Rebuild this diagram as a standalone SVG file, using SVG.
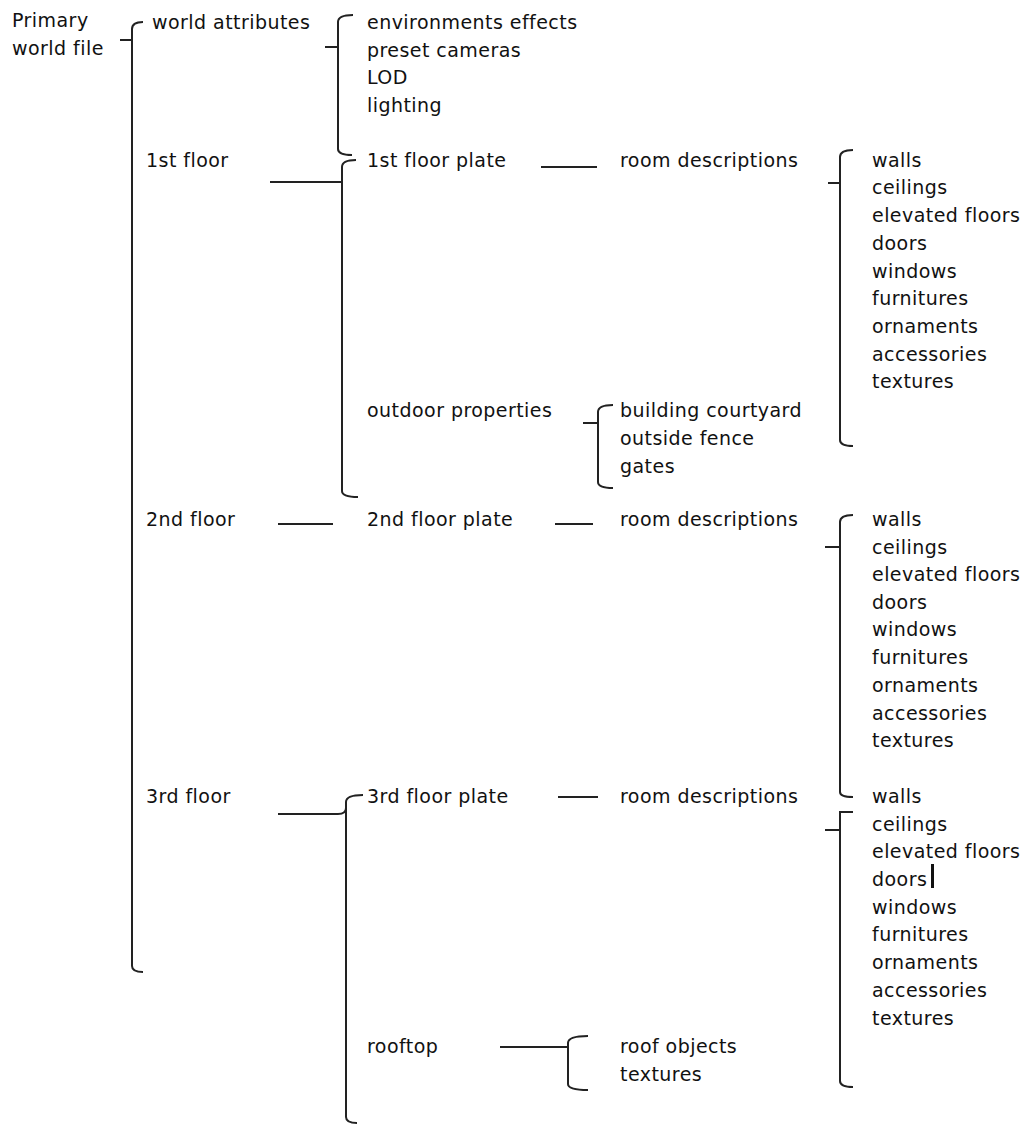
<svg xmlns="http://www.w3.org/2000/svg" width="1030" height="1126" viewBox="0 0 1030 1126">
<style>
text{font-family:"DejaVu Sans","Liberation Sans",sans-serif;font-size:19px;fill:#111;letter-spacing:0.45px}
.c path{fill:none;stroke:#222;stroke-width:2}
</style>
<rect width="1030" height="1126" fill="#fff"/>
<g class="c" id="connectors">
<path d="M143,22 Q132,22 132,29 L132,966 Q132,972 143,972 M120,40 L132,40"/>
<path d="M353,15 Q338,15 338,22 L338,149 Q338,155 352,155 M325,47 L338,47" stroke="#444"/>
<path d="M356,160 Q342,160 342,167 L342,491 Q342,497 358,497 M270,182 L342,182"/>
<path d="M541,167 L597,167"/>
<path d="M853,150 Q840,150 840,157 L840,440 Q840,446 853,446 M828,183 L840,183"/>
<path d="M613,405 Q598,405 598,412 L598,482 Q598,488 613,488 M583,423 L598,423"/>
<path d="M278,524 L333,524 M555,524 L593,524"/>
<path d="M853,515 Q840,515 840,522 L840,792 Q840,797 853,797 M825,547 L840,547"/>
<path d="M853,812 L840,812 L840,1081 Q840,1087 853,1087 M825,830 L840,830"/>
<path d="M278,814 L338,814 Q346,814 346,808"/>
<path d="M363,795 Q346,795 346,802 L346,1117 Q346,1123 357,1123"/>
<path d="M558,797 L598,797"/>
<path d="M500,1047 L568,1047 M588,1036 Q568,1036 568,1043 L568,1084 Q568,1090 588,1090"/>
</g>
<g id="primary"><text x="12" y="27">Primary</text><text x="12" y="55">world file</text></g>
<g id="world-attributes"><text x="152" y="29">world attributes</text></g>
<g id="world-attr-items"><text x="367" y="29">environments effects</text><text x="367" y="57">preset cameras</text><text x="367" y="84">LOD</text><text x="367" y="112">lighting</text></g>
<g id="floor1"><text x="146" y="167">1st floor</text></g>
<g id="floor1-plate"><text x="367" y="167">1st floor plate</text></g>
<g id="room1"><text x="620" y="167">room descriptions</text></g>
<g id="room1-items">
<text x="872" y="167">walls</text><text x="872" y="194">ceilings</text><text x="872" y="222">elevated floors</text><text x="872" y="250">doors</text><text x="872" y="278">windows</text><text x="872" y="305">furnitures</text><text x="872" y="333">ornaments</text><text x="872" y="361">accessories</text><text x="872" y="388">textures</text>
</g>
<g id="outdoor"><text x="367" y="417">outdoor properties</text></g>
<g id="outdoor-items"><text x="620" y="417">building courtyard</text><text x="620" y="445">outside fence</text><text x="620" y="473">gates</text></g>
<g id="floor2"><text x="146" y="526">2nd floor</text></g>
<g id="floor2-plate"><text x="367" y="526">2nd floor plate</text></g>
<g id="room2"><text x="620" y="526">room descriptions</text></g>
<g id="room2-items">
<text x="872" y="526">walls</text><text x="872" y="554">ceilings</text><text x="872" y="581">elevated floors</text><text x="872" y="609">doors</text><text x="872" y="636">windows</text><text x="872" y="664">furnitures</text><text x="872" y="692">ornaments</text><text x="872" y="720">accessories</text><text x="872" y="747">textures</text>
</g>
<g id="floor3"><text x="146" y="803">3rd floor</text></g>
<g id="floor3-plate"><text x="367" y="803">3rd floor plate</text></g>
<g id="room3"><text x="620" y="803">room descriptions</text></g>
<g id="room3-items">
<text x="872" y="803">walls</text><text x="872" y="831">ceilings</text><text x="872" y="858">elevated floors</text><text x="872" y="886">doors</text><text x="872" y="914">windows</text><text x="872" y="941">furnitures</text><text x="872" y="969">ornaments</text><text x="872" y="997">accessories</text><text x="872" y="1025">textures</text>
</g>
<rect x="931" y="864" width="3" height="24" fill="#111"/>
<g id="rooftop"><text x="367" y="1053">rooftop</text></g>
<g id="rooftop-items"><text x="620" y="1053">roof objects</text><text x="620" y="1081">textures</text></g>
</svg>
